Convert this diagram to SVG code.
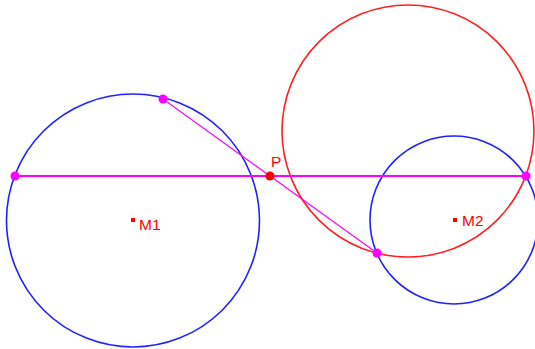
<svg xmlns="http://www.w3.org/2000/svg" width="535" height="349" viewBox="0 0 535 349">
<style>
.blue{fill:none;stroke:#2020ff;stroke-width:1.6}
.red{fill:none;stroke:#ff2020;stroke-width:1.6}
.seg{stroke:#ff00ff;fill:none}
.pt{fill:#ff00ff}
.lbl{font-family:"Liberation Sans",Arial,sans-serif;font-size:15.5px;fill:#ff0000}
</style>
<rect width="535" height="349" fill="#ffffff"/>
<g id="circle-m1"><circle class="blue" cx="133" cy="220.5" r="126.5"/></g>
<g id="circle-m2"><circle class="blue" cx="454" cy="220" r="84"/></g>
<g id="circle-red"><circle class="red" cx="408" cy="131" r="126"/></g>
<g id="connectors">
<line class="seg" stroke-width="1.8" x1="15" y1="176" x2="526" y2="176"/>
<line class="seg" stroke-width="1.2" x1="163" y1="99" x2="377" y2="253"/>
</g>
<g id="pt-left"><circle class="pt" cx="15" cy="176" r="4.5"/></g>
<g id="pt-top"><circle class="pt" cx="163" cy="99" r="4.5"/></g>
<g id="pt-right"><circle class="pt" cx="526" cy="176" r="4.5"/></g>
<g id="pt-bottom"><circle class="pt" cx="377" cy="253" r="4.5"/></g>
<g id="P"><circle cx="270" cy="176" r="4.5" fill="#ff0000"/><text class="lbl" x="271" y="167">P</text></g>
<g id="M1"><rect x="131" y="218" width="4" height="4" fill="#ff0000"/><text class="lbl" x="139" y="229.5">M1</text></g>
<g id="M2"><rect x="453" y="218" width="4" height="4" fill="#ff0000"/><text class="lbl" x="462" y="225.5">M2</text></g>
</svg>
